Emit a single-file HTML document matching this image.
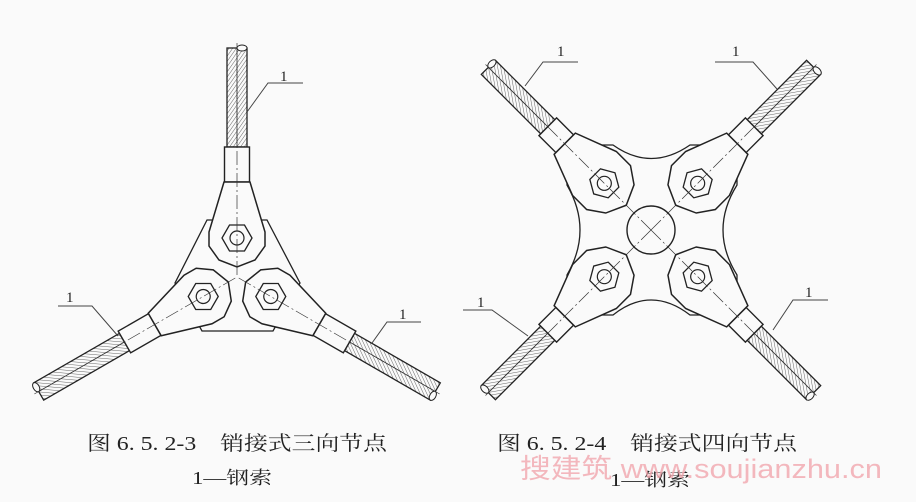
<!DOCTYPE html>
<html><head><meta charset="utf-8"><style>
html,body{margin:0;padding:0;background:#fafafa;}
svg{display:block;}
</style></head><body>
<svg width="916" height="502" viewBox="0 0 916 502" xmlns="http://www.w3.org/2000/svg">
<defs>
<pattern id="h" width="3" height="3" patternUnits="userSpaceOnUse" patternTransform="rotate(35)">
<line x1="0" y1="0" x2="0" y2="3" stroke="#555" stroke-width="0.9"/>
</pattern>
<g id="arm3">
<rect x="-10" y="-229" width="20" height="99" fill="url(#h)" stroke="#222" stroke-width="1.3"/>
<line x1="0" y1="-229" x2="0" y2="-130" stroke="#333" stroke-width="0.8"/>
<ellipse cx="5" cy="-229" rx="5" ry="3" fill="#fafafa" stroke="#222" stroke-width="1"/>
<rect x="-12.5" y="-130" width="25" height="35" fill="#fafafa" stroke="#222" stroke-width="1.4"/>
<polygon points="-13,-95 -28,-45 -28,-31 -18,-17 0,-10 18,-17 28,-31 28,-45 13,-95" fill="#fafafa" stroke="#222" stroke-width="1.5"/>
<polygon points="15,-39 7.5,-26 -7.5,-26 -15,-39 -7.5,-52 7.5,-52" fill="none" stroke="#222" stroke-width="1.3"/>
<circle cx="0" cy="-39" r="7" fill="none" stroke="#222" stroke-width="1.2"/>
<line x1="0" y1="-2" x2="0" y2="-234" stroke="#333" stroke-width="0.7" stroke-dasharray="14,3,2,3"/>
</g>
<g id="arm4">
<rect x="-10" y="-230" width="20" height="84" fill="url(#h)" stroke="#222" stroke-width="1.3"/>
<line x1="0" y1="-230" x2="0" y2="-146" stroke="#333" stroke-width="0.8"/>
<ellipse cx="5" cy="-230" rx="5" ry="3" fill="#fafafa" stroke="#222" stroke-width="1"/>
<rect x="-12.5" y="-146" width="25" height="24" fill="#fafafa" stroke="#222" stroke-width="1.4"/>
<polygon points="-15,-122 -31,-80 -31,-60 -20,-44 0,-35 20,-44 31,-60 31,-80 15,-122" fill="#fafafa" stroke="#222" stroke-width="1.5"/>
<polygon points="15,-66 7.5,-53 -7.5,-53 -15,-66 -7.5,-79 7.5,-79" fill="none" stroke="#222" stroke-width="1.3"/>
<circle cx="0" cy="-66" r="7" fill="none" stroke="#222" stroke-width="1.2"/>
<line x1="0" y1="0" x2="0" y2="-234" stroke="#333" stroke-width="0.7" stroke-dasharray="14,3,2,3"/>
</g>
</defs>

<!-- three-way -->
<polygon points="207,220 267,220 300,283 273,331 202,331 175,283" fill="#fafafa" stroke="#222" stroke-width="1.3"/>
<g transform="translate(237,277)">
<use href="#arm3"/>
<use href="#arm3" transform="rotate(120)"/>
<use href="#arm3" transform="rotate(240)"/>
</g>
<g stroke="#444" stroke-width="1" fill="none">
<polyline points="303,83 268,83 247,112"/>
<polyline points="58,306 92,306 118,336"/>
<polyline points="421,322 387,322 372,343"/>
</g>

<!-- four-way -->
<path d="M567,172 L595,145 L613,145 Q651,172 690,145 L710,145 L737,172 L737,185 Q709,230 737,275 L737,288 L710,315 L690,315 Q651,285 613,315 L595,315 L567,288 L567,275 Q593,230 567,185 Z" fill="#fafafa" stroke="#222" stroke-width="1.3"/>
<circle cx="651" cy="230" r="24" fill="none" stroke="#222" stroke-width="1.4"/>
<g transform="translate(651,230)">
<use href="#arm4" transform="rotate(-45)"/>
<use href="#arm4" transform="rotate(45)"/>
<use href="#arm4" transform="rotate(135)"/>
<use href="#arm4" transform="rotate(225)"/>
</g>
<g stroke="#444" stroke-width="1" fill="none">
<polyline points="578,62 543,62 525,86"/>
<polyline points="715,62 753,62 777,89"/>
<polyline points="463,310 492,310 528,336"/>
<polyline points="828,300 793,300 773,330"/>
</g>

<g font-family="'Liberation Serif','Noto Serif CJK SC',serif" fill="#222">
<text x="280" y="81" font-size="15">1</text>
<text x="66" y="302" font-size="15">1</text>
<text x="399" y="319" font-size="15">1</text>
<text x="557" y="56" font-size="15">1</text>
<text x="732" y="56" font-size="15">1</text>
<text x="477" y="307" font-size="15">1</text>
<text x="805" y="297" font-size="15">1</text>
<text x="87" y="450" font-size="20" textLength="300" lengthAdjust="spacingAndGlyphs">图 6. 5. 2-3　销接式三向节点</text>
<text x="192" y="484" font-size="18" textLength="80" lengthAdjust="spacingAndGlyphs">1—钢索</text>
<text x="497" y="450" font-size="20" textLength="300" lengthAdjust="spacingAndGlyphs">图 6. 5. 2-4　销接式四向节点</text>
<text x="610" y="486" font-size="18" textLength="80" lengthAdjust="spacingAndGlyphs">1—钢索</text>
</g>
<text x="520" y="478" font-family="'Liberation Sans','Noto Sans CJK SC',sans-serif" font-size="27" fill="#f0a0a8" fill-opacity="0.75" textLength="362" lengthAdjust="spacingAndGlyphs">搜建筑 www.soujianzhu.cn</text>
</svg>
</body></html>
